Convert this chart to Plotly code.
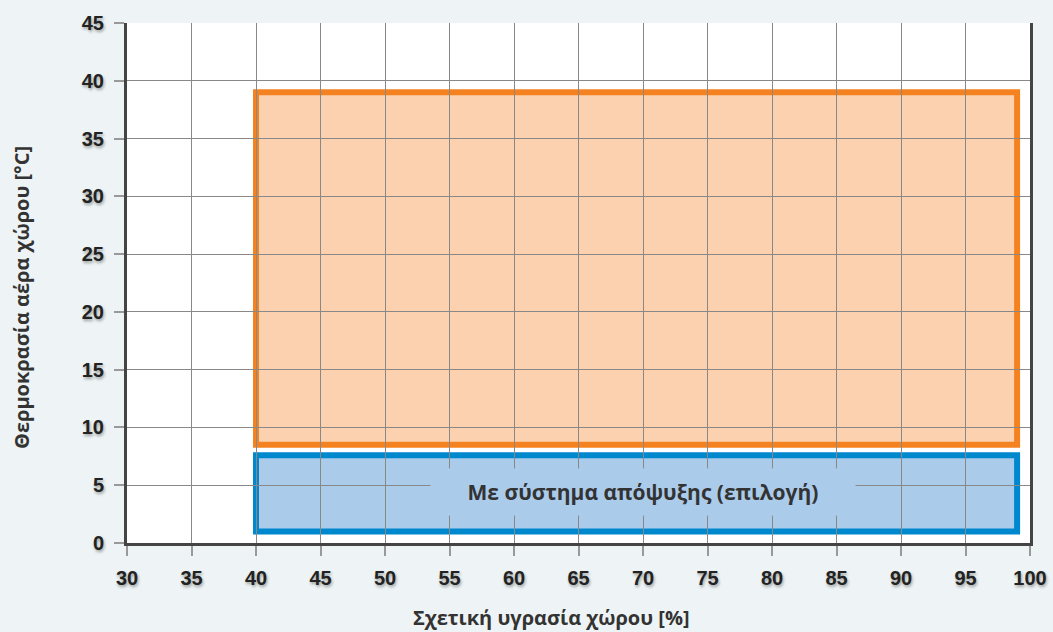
import plotly.graph_objects as go

# Data
x_ticks = list(range(30, 101, 5))
y_ticks = list(range(0, 46, 5))
x_range = [30, 100]
y_range = [0, 45]

# Operating zones
zone_heat = dict(x0=40, x1=99, y0=8.5, y1=39.0)
zone_defrost = dict(x0=40, x1=99, y0=1.0, y1=7.6)
defrost_label = "Με σύστημα απόψυξης (επιλογή)"
defrost_label_pos = (70, 4.4)
x_title = "Σχετική υγρασία χώρου [%]"
y_title = "Θερμοκρασία αέρα χώρου [°C]"

BG = "#eef4f5"
ORANGE_LINE = "#f58220"
ORANGE_FILL = "#fbd1b0"
BLUE_LINE = "#0088cf"
BLUE_FILL = "#abcbeb"
TXT = "#333333"

L, R, T, B = 127, 23, 23, 89
W, H = 1053, 632
PW, PH = W - L - R, H - T - B

fig = go.Figure()
fig.add_trace(go.Scatter(x=x_range, y=y_range, mode="markers",
                         marker=dict(opacity=0), hoverinfo="skip", showlegend=False))

fig.add_shape(type="rect", xref="x", yref="y", layer="below",
              line=dict(color=ORANGE_LINE, width=6), fillcolor=ORANGE_FILL, **zone_heat)
fig.add_shape(type="rect", xref="x", yref="y", layer="below",
              line=dict(color=BLUE_LINE, width=6), fillcolor=BLUE_FILL, **zone_defrost)

tickfont = dict(family="Liberation Sans, Arial, sans-serif", size=20, color="#222222",
                weight="bold", shadow="1px 2px 3px rgba(0,0,0,0.35)")

fig.update_xaxes(range=x_range, tickvals=x_ticks, showgrid=True, gridcolor="#888888",
                 gridwidth=1.2, showline=True, linecolor="#444444", linewidth=3,
                 ticks="outside", ticklen=10, tickcolor="#999999", tickwidth=1.5,
                 tickfont=tickfont, ticklabelstandoff=5, zeroline=False, fixedrange=True,
                 automargin=False)
fig.update_yaxes(range=y_range, tickvals=y_ticks, showgrid=True, gridcolor="#888888",
                 gridwidth=1.2, showline=True, linecolor="#444444", linewidth=3, mirror=True,
                 ticks="outside", ticklen=10, tickcolor="#999999", tickwidth=1.5,
                 tickfont=tickfont, ticklabelstandoff=6, zeroline=False, fixedrange=True,
                 automargin=False)

fig.add_annotation(x=defrost_label_pos[0], y=defrost_label_pos[1], xref="x", yref="y",
                   text=defrost_label,
                   showarrow=False, bgcolor=BLUE_FILL, width=424, height=46, borderpad=0,
                   font=dict(family="Open Sans, Noto Sans, sans-serif", size=21,
                             color=TXT, weight="bold"))

titlefont = dict(family="Open Sans, Noto Sans, sans-serif", size=20, color=TXT, weight="bold")
fig.add_annotation(text=x_title, showarrow=False, font=titlefont,
                   xref="paper", yref="paper",
                   x=(551 - L) / PW, y=-(617 - (H - B)) / PH,
                   xanchor="center", yanchor="middle")
fig.add_annotation(text=y_title, showarrow=False, font=titlefont, textangle=-90,
                   xref="paper", yref="paper",
                   x=-(L - 21) / PW, y=((H - B) - 298) / PH,
                   xanchor="center", yanchor="middle")

fig.update_layout(width=W, height=H, paper_bgcolor=BG, plot_bgcolor="white",
                  margin=dict(l=L, r=R, t=T, b=B, autoexpand=False), showlegend=False)

fig.write_html("out.html", config={"displayModeBar": False},
               post_script="document.body.style.margin='0';document.body.style.background='%s';" % BG)
